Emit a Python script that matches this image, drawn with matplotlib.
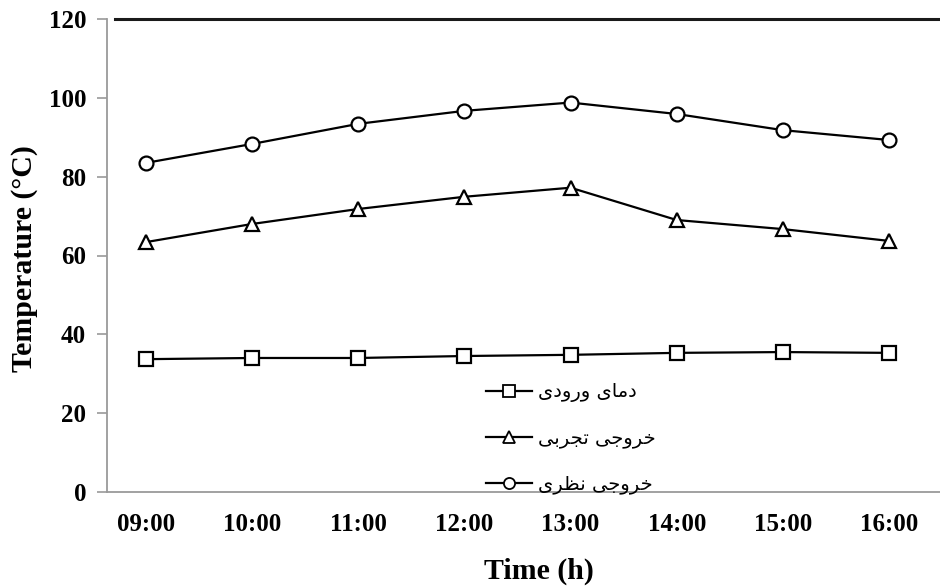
import matplotlib
matplotlib.use("Agg")
import matplotlib.pyplot as plt
from matplotlib.lines import Line2D

times = ["09:00", "10:00", "11:00", "12:00", "13:00", "14:00", "15:00", "16:00"]
inlet = [33.7, 34.0, 34.0, 34.5, 34.8, 35.3, 35.5, 35.3]
outlet_exp = [63.4, 68.0, 71.8, 74.9, 77.2, 69.0, 66.7, 63.7]
outlet_theory = [83.5, 88.3, 93.4, 96.7, 98.8, 95.9, 91.8, 89.3]
series_labels = ["دمای ورودی", "خروجی تجربی", "خروجی نظری"]
yticks = [0, 20, 40, 60, 80, 100, 120]

# simple Arabic/Persian shaping (presentation forms) for display
FORMS = {  # isolated, final, initial, medial
    'ا': ('\uFE8D', '\uFE8E', None, None),
    'د': ('\uFEA9', '\uFEAA', None, None),
    'ر': ('\uFEAD', '\uFEAE', None, None),
    'و': ('\uFEED', '\uFEEE', None, None),
    'م': ('\uFEE1', '\uFEE2', '\uFEE3', '\uFEE4'),
    'خ': ('\uFEA5', '\uFEA6', '\uFEA7', '\uFEA8'),
    'ج': ('\uFE9D', '\uFE9E', '\uFE9F', '\uFEA0'),
    'ت': ('\uFE95', '\uFE96', '\uFE97', '\uFE98'),
    'ب': ('\uFE8F', '\uFE90', '\uFE91', '\uFE92'),
    'ن': ('\uFEE5', '\uFEE6', '\uFEE7', '\uFEE8'),
    'ظ': ('\uFEC5', '\uFEC6', '\uFEC7', '\uFEC8'),
    'ی': ('\uFBFC', '\uFBFD', '\uFBFE', '\uFBFF'),
}

def shape(s):
    out = []
    for i, ch in enumerate(s):
        if ch not in FORMS:
            out.append(ch)
            continue
        prev = s[i - 1] if i > 0 else None
        nxt = s[i + 1] if i + 1 < len(s) else None
        join_prev = prev in FORMS and FORMS[prev][2] is not None
        join_next = nxt in FORMS and FORMS[ch][2] is not None
        iso, fin, ini, med = FORMS[ch]
        if join_prev and join_next:
            out.append(med)
        elif join_prev:
            out.append(fin)
        elif join_next:
            out.append(ini)
        else:
            out.append(iso)
    return ''.join(out)[::-1]

plt.rcParams['font.family'] = ['Liberation Serif', 'DejaVu Sans']

fig = plt.figure(figsize=(9.4, 5.88), dpi=100)
ax = fig.add_axes([107/940, 1-492/588, 1-107/940, (492-19)/588])

x = list(range(len(times)))
common = dict(color='black', lw=1.6, markersize=10, markeredgewidth=1.6,
              markerfacecolor='white', markeredgecolor='black')
ax.plot(x, inlet, marker='s', **common)
ax.plot(x, outlet_exp, marker='^', **common)
ax.plot(x, outlet_theory, marker='o', **common)

ax.set_ylim(0, 120)
ax.set_xlim(-(146-107)/106.14, 7 + (940-889)/106.14)
ax.set_yticks(yticks)
ax.set_xticks(x)
ax.set_xticklabels(times)

for s in ['right', 'top']:
    ax.spines[s].set_visible(False)
for s in ['left', 'bottom']:
    ax.spines[s].set_color('#9a9a9a')
    ax.spines[s].set_linewidth(1.3)
ax.axhline(120, xmin=8/833, xmax=1, color='#1a1a1a', lw=2.2, clip_on=False)

ax.tick_params(axis='y', direction='out', length=7, width=1.2, color='#9a9a9a',
               pad=8, labelsize=18)
ax.tick_params(axis='x', length=0, pad=15, labelsize=18)
for lab in ax.get_xticklabels() + ax.get_yticklabels():
    lab.set_fontweight('bold')

ax.set_ylabel('Temperature (°C)', fontsize=21.5, fontweight='bold', va='center')
ax.yaxis.set_label_coords((25-107)/833, (492-259)/473)
ax.set_xlabel('Time (h)', fontsize=21.5, fontweight='bold', va='center')
ax.xaxis.set_label_coords((539-107)/833, (492-571)/473)

lcommon = dict(common, markersize=8, markeredgewidth=1.3)
handles = [
    Line2D([], [], marker='s', **lcommon),
    Line2D([], [], marker='^', **lcommon),
    Line2D([], [], marker='o', **lcommon),
]
leg = fig.legend(handles, [shape(l) for l in series_labels],
                 loc='upper left', bbox_to_anchor=(468/940, 1-365/588),
                 frameon=False, handlelength=2.4, handletextpad=0.3,
                 labelspacing=1.35, prop={'family': 'DejaVu Sans', 'size': 14})

fig.savefig('out.png', dpi=100)
